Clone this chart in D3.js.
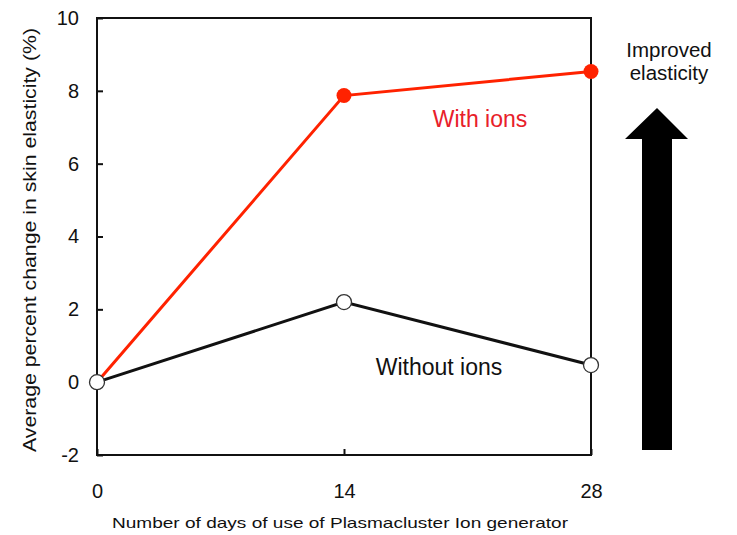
<!DOCTYPE html>
<html><head><meta charset="utf-8">
<script src="https://cdn.jsdelivr.net/npm/d3@7"></script>
<style>body{margin:0;background:#fff;font-family:Arial,"Liberation Sans",sans-serif}</style>
</head><body>
<svg id="c" width="737" height="535"></svg>
<script>
const days = [0, 14, 28];
const withIons = [0, 7.87, 8.53];
const withoutIons = [0, 2.2, 0.47];
const yTicks = [-2, 0, 2, 4, 6, 8, 10];
const xTicks = [0, 14, 28];
const seriesLabels = ["With ions", "Without ions"];

const svg = d3.select("#c");
const L = 97, R = 591, T = 18, B = 455;
const x = d3.scaleLinear().domain([0, 28]).range([L, R]);
const y = d3.scaleLinear().domain([-2, 10]).range([B, T]);
const font = 'Arial, "Liberation Sans", sans-serif';

// frame
svg.append("rect").attr("x", L).attr("y", T).attr("width", R - L).attr("height", B - T)
  .attr("fill", "none").attr("stroke", "#111").attr("stroke-width", 2);

// y axis
const yAxis = d3.axisLeft(y).tickValues(yTicks).tickSize(-6).tickPadding(18)
  .tickFormat(d => d < 0 ? "-" + Math.abs(d) : d);
const gy = svg.append("g").attr("transform", `translate(${L},0)`).call(yAxis);
gy.select(".domain").remove();
gy.selectAll(".tick line").attr("stroke", "#111").attr("stroke-width", 2);
gy.selectAll("text").attr("font-size", 20).attr("font-family", font).attr("fill", "#111");

// x axis
const xAxis = d3.axisBottom(x).tickValues(xTicks).tickSize(-6).tickPadding(29);
const gx = svg.append("g").attr("transform", `translate(0,${B})`).call(xAxis);
gx.select(".domain").remove();
gx.selectAll(".tick line").attr("stroke", "#111").attr("stroke-width", 2);
gx.selectAll("text").attr("font-size", 20).attr("font-family", font).attr("fill", "#111");

// axis titles
svg.append("text").attr("transform", `translate(36,${240}) rotate(-90)`)
  .attr("text-anchor", "middle").attr("font-size", 19).attr("font-family", font).attr("fill", "#111")
  .attr("textLength", 424).attr("lengthAdjust", "spacingAndGlyphs")
  .text("Average percent change in skin elasticity (%)");
svg.append("text").attr("x", 340).attr("y", 528).attr("text-anchor", "middle")
  .attr("font-size", 15).attr("font-family", font).attr("fill", "#111")
  .attr("textLength", 456).attr("lengthAdjust", "spacingAndGlyphs")
  .text("Number of days of use of Plasmacluster Ion generator");

const line = d3.line().x((d, i) => x(days[i])).y(d => y(d));

// without ions
svg.append("path").datum(withoutIons).attr("d", line).attr("fill", "none")
  .attr("stroke", "#111").attr("stroke-width", 3);
// with ions
svg.append("path").datum(withIons).attr("d", line).attr("fill", "none")
  .attr("stroke", "#ff2200").attr("stroke-width", 3);

svg.selectAll(".mw").data(withIons.slice(1)).enter().append("circle")
  .attr("cx", (d, i) => x(days[i + 1])).attr("cy", d => y(d)).attr("r", 7.5)
  .attr("fill", "#ff2200");
svg.selectAll(".mo").data(withoutIons).enter().append("circle")
  .attr("cx", (d, i) => x(days[i])).attr("cy", d => y(d)).attr("r", 7.5)
  .attr("fill", "#fff").attr("stroke", "#333").attr("stroke-width", 1.3);

// series labels
svg.append("text").attr("x", 480).attr("y", 127).attr("text-anchor", "middle")
  .attr("font-size", 23).attr("font-family", font).attr("fill", "#e8202a").text(seriesLabels[0]);
svg.append("text").attr("x", 439).attr("y", 375).attr("text-anchor", "middle")
  .attr("font-size", 23).attr("font-family", font).attr("fill", "#111").text(seriesLabels[1]);

// arrow
svg.append("path").attr("d", "M657,108 L688,139 L672,139 L672,450 L642,450 L642,139 L625,139 Z")
  .attr("fill", "#000");
svg.append("text").attr("x", 669).attr("y", 57).attr("text-anchor", "middle")
  .attr("font-size", 20.5).attr("font-family", font).attr("fill", "#111").text("Improved");
svg.append("text").attr("x", 669).attr("y", 80).attr("text-anchor", "middle")
  .attr("font-size", 20.5).attr("font-family", font).attr("fill", "#111").text("elasticity");
</script>
</body></html>
